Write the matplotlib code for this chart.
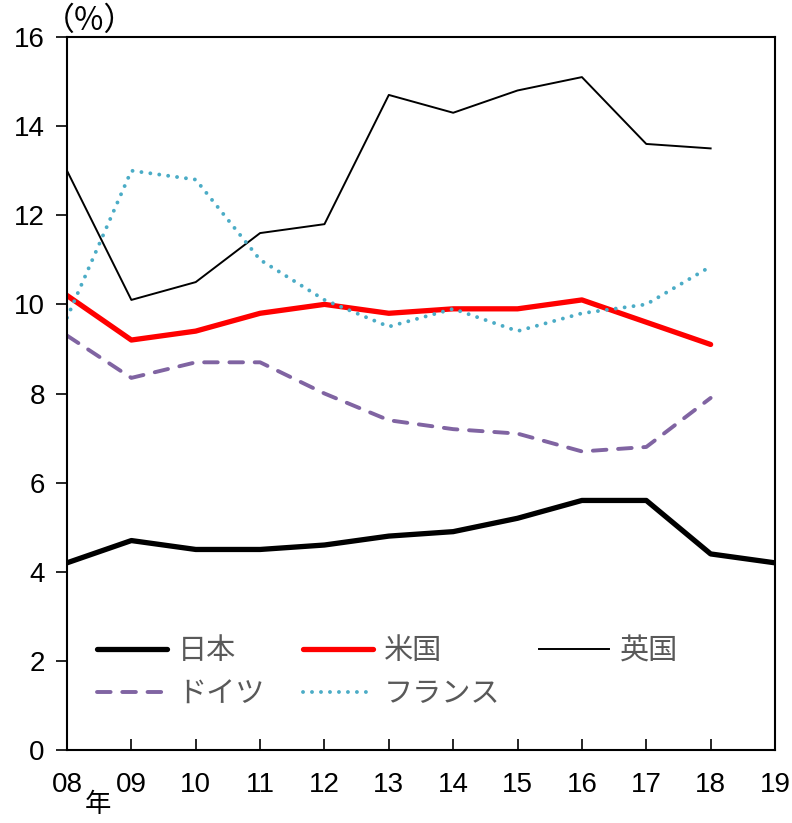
import matplotlib
matplotlib.use('Agg')
import matplotlib.pyplot as plt

plt.rcParams['font.family'] = ['Liberation Sans', 'Noto Sans CJK JP']

years = ['08', '09', '10', '11', '12', '13', '14', '15', '16', '17', '18', '19']
japan = [4.2, 4.7, 4.5, 4.5, 4.6, 4.8, 4.9, 5.2, 5.6, 5.6, 4.4, 4.2]
usa = [10.2, 9.2, 9.4, 9.8, 10.0, 9.8, 9.9, 9.9, 10.1, 9.6, 9.1]
uk = [13.0, 10.1, 10.5, 11.6, 11.8, 14.7, 14.3, 14.8, 15.1, 13.6, 13.5]
germany = [9.3, 8.35, 8.7, 8.7, 8.0, 7.4, 7.2, 7.1, 6.7, 6.8, 7.9]
france = [9.7, 13.0, 12.8, 11.0, 10.1, 9.5, 9.9, 9.4, 9.8, 10.0, 10.85]
labels = ['日本', '米国', '英国', 'ドイツ', 'フランス']

fig = plt.figure(figsize=(7.92, 8.23), dpi=100)
ax = fig.add_axes([67/792, 1-750/823, 708/792, 713/823])

x = list(range(len(years)))
l1, = ax.plot(x, japan, color='black', lw=3.8, solid_capstyle='round')
l2, = ax.plot(x[:len(usa)], usa, color='#ff0000', lw=3.8, solid_capstyle='round')
l3, = ax.plot(x[:len(uk)], uk, color='black', lw=1.4)
l4, = ax.plot(x[:len(germany)], germany, color='#8064a2', lw=2.8, dashes=(3.5, 3), dash_capstyle='round')
l5, = ax.plot(x[:len(france)], france, color='#4bacc6', lw=2.8, dashes=(0.01, 2.3), dash_capstyle='round')

ax.set_xlim(0, 11)
ax.set_ylim(0, 16)
ax.set_yticks(range(0, 17, 2))
ax.set_xticks(x)
ax.set_xticklabels(years)
ax.tick_params(axis='x', direction='in', length=8, width=1.2, pad=16, labelsize=20)
ax.tick_params(axis='y', direction='out', length=8, width=1.2, pad=8, labelsize=20)
for s in ax.spines.values():
    s.set_linewidth(1.5)

fig.text(90/792, 1-21/823, '（%）', fontsize=23, family=['Noto Sans CJK JP'], va='center', ha='center')
fig.text(98/792, 1-804/823, '年', fontsize=19, family=['Noto Sans CJK JP'], va='center', ha='center')

# legend fills column-first, so reorder to get rows 日本 米国 英国 / ドイツ フランス
handles = [l1, l4, l2, l5, l3]
leg_labels = [labels[0], labels[3], labels[1], labels[4], labels[2]]
leg = ax.legend(handles, leg_labels, ncol=3, loc='lower left', bbox_to_anchor=(0.042, 0.057),
                borderaxespad=0, frameon=False, handlelength=2.4, handletextpad=0.38,
                columnspacing=1.3, labelspacing=0.45, borderpad=0,
                prop={'family': 'Noto Sans CJK JP', 'size': 21})
for t in leg.get_texts():
    t.set_color('#595959')

fig.savefig('out.png', dpi=100)
